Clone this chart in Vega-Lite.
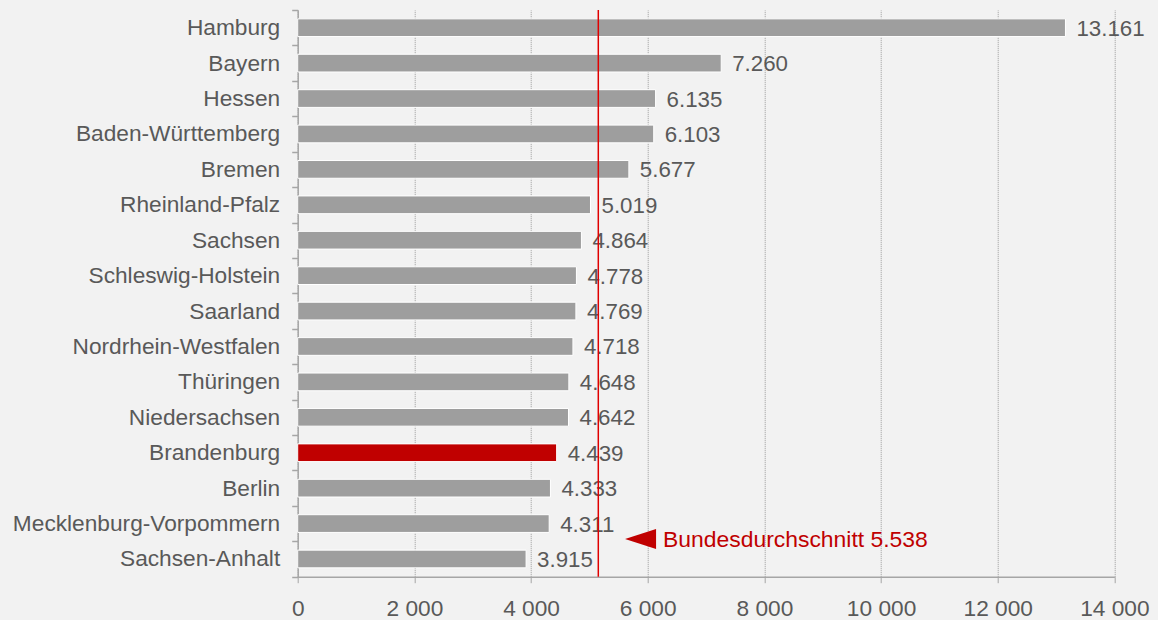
{
  "$schema": "https://vega.github.io/schema/vega-lite/v6.json",
  "width": 816.7,
  "height": 566.7,
  "autosize": "none",
  "padding": {"left": 297.7, "top": 10, "right": 43.6, "bottom": 43.3},
  "background": "#f2f2f2",
  "config": {
    "view": {"stroke": null},
    "font": "Liberation Sans",
    "locale": {"number": {"decimal": ",", "thousands": ".", "grouping": [3], "currency": ["", " €"]}}
  },
  "data": {
    "values": [
      {"state": "Hamburg", "value": 13161},
      {"state": "Bayern", "value": 7260},
      {"state": "Hessen", "value": 6135},
      {"state": "Baden-Württemberg", "value": 6103},
      {"state": "Bremen", "value": 5677},
      {"state": "Rheinland-Pfalz", "value": 5019},
      {"state": "Sachsen", "value": 4864},
      {"state": "Schleswig-Holstein", "value": 4778},
      {"state": "Saarland", "value": 4769},
      {"state": "Nordrhein-Westfalen", "value": 4718},
      {"state": "Thüringen", "value": 4648},
      {"state": "Niedersachsen", "value": 4642},
      {"state": "Brandenburg", "value": 4439},
      {"state": "Berlin", "value": 4333},
      {"state": "Mecklenburg-Vorpommern", "value": 4311},
      {"state": "Sachsen-Anhalt", "value": 3915}
    ]
  },
  "layer": [
    {
      "mark": {"type": "bar", "height": {"band": 0.5}, "stroke": "#ffffff", "strokeWidth": 1},
      "encoding": {
        "y": {
          "field": "state",
          "type": "nominal",
          "sort": null,
          "scale": {"paddingInner": 0, "paddingOuter": 0},
          "axis": {
            "title": null,
            "tickBand": "extent",
            "domainColor": "#a6a6a6",
            "domainWidth": 1.5,
            "tickColor": "#a6a6a6",
            "tickWidth": 1.5,
            "tickSize": 6,
            "labelFontSize": 22.7,
            "labelColor": "#595959",
            "labelPadding": 12,
            "labelLimit": 0,
            "labelFont": "Liberation Sans"
          }
        },
        "x": {
          "field": "value",
          "type": "quantitative",
          "scale": {"domain": [0, 14000], "nice": false},
          "axis": {
            "title": null,
            "values": [0, 2000, 4000, 6000, 8000, 10000, 12000, 14000],
            "format": ",d",
            "labelExpr": "replace(datum.label, '.', ' ')",
            "labelFlush": false,
            "labelOverlap": false,
            "grid": true,
            "gridDash": [1, 1],
            "gridColor": "#9a9a9a",
            "gridWidth": 1,
            "domainColor": "#a6a6a6",
            "domainWidth": 1.5,
            "tickColor": "#a6a6a6",
            "tickWidth": 1,
            "tickSize": 6,
            "labelFontSize": 22.7,
            "labelColor": "#595959",
            "labelPadding": 15,
            "labelFont": "Liberation Sans"
          }
        },
        "color": {
          "condition": {"test": "datum.state === 'Brandenburg'", "value": "#c00000"},
          "value": "#9e9e9e"
        }
      }
    },
    {
      "mark": {"type": "text", "align": "left", "baseline": "middle", "dx": 11, "dy": 1, "fontSize": 22.3, "color": "#595959", "font": "Liberation Sans"},
      "encoding": {
        "y": {"field": "state", "type": "nominal", "sort": null},
        "x": {"field": "value", "type": "quantitative"},
        "text": {"field": "value", "type": "quantitative", "format": ",d"}
      }
    },
    {
      "data": {"values": [{"ref": 5153}]},
      "mark": {"type": "rule", "color": "#e00000", "strokeWidth": 1.5},
      "encoding": {
        "x": {"field": "ref", "type": "quantitative"}
      }
    },
    {
      "data": {"values": [{"state": "Mecklenburg-Vorpommern", "label": "Bundesdurchschnitt 5.538"}]},
      "mark": {"type": "point", "shape": "M1,-0.645L-1,0L1,0.645Z", "size": 961, "filled": true, "color": "#c00000", "opacity": 1, "yOffset": 15.5},
      "encoding": {
        "x": {"datum": 5877, "type": "quantitative"},
        "y": {"field": "state", "type": "nominal", "sort": null}
      }
    },
    {
      "data": {"values": [{"state": "Mecklenburg-Vorpommern", "label": "Bundesdurchschnitt 5.538"}]},
      "mark": {"type": "text", "align": "left", "baseline": "middle", "fontSize": 22.9, "color": "#c00000", "yOffset": 16, "font": "Liberation Sans"},
      "encoding": {
        "x": {"datum": 6263, "type": "quantitative"},
        "y": {"field": "state", "type": "nominal", "sort": null},
        "text": {"field": "label"}
      }
    }
  ]
}
